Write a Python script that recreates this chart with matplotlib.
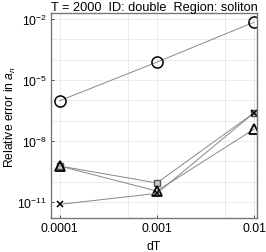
import matplotlib
matplotlib.use("Agg")
import matplotlib.pyplot as plt
from matplotlib.ticker import FixedLocator, NullFormatter

plt.rcParams['font.family'] = ['Liberation Sans', 'DejaVu Sans']
plt.rcParams['mathtext.fontset'] = 'custom'
plt.rcParams['mathtext.rm'] = 'Liberation Sans'
plt.rcParams['mathtext.it'] = 'Liberation Sans:italic'

# Data
dT = [0.0001, 0.001, 0.01]
err_circle = [9.5e-7, 7.5e-5, 7.0e-3]
err_square = [5.8e-10, 8.5e-11, 2.4e-7]
err_triangle = [5.8e-10, 3.4e-11, 3.8e-8]
err_cross = [7.5e-12, 2.6e-11, 2.4e-7]

x_ticks = [0.0001, 0.001, 0.01]
x_tick_labels = ["0.0001", "0.001", "0.01"]

fs = 8.7

fig = plt.figure(figsize=(2.66, 2.53), dpi=100)
ax = fig.add_axes([0.192, 0.134, 0.774, 0.811])

line_kw = dict(color="#888888", linewidth=0.7)
ax.plot(dT, err_circle, marker="o", markersize=8, markerfacecolor="none",
        markeredgecolor="black", markeredgewidth=1.1, **line_kw)
ax.plot(dT, err_square, marker="s", markersize=5, markerfacecolor="#cccccc",
        markeredgecolor="#555555", markeredgewidth=1.0, **line_kw)
ax.plot(dT, err_triangle, marker="^", markersize=7, markerfacecolor="none",
        markeredgecolor="black", markeredgewidth=1.3, **line_kw)
ax.plot(dT, err_cross, marker="x", markersize=4, markerfacecolor="none",
        markeredgecolor="black", markeredgewidth=1.1, **line_kw)

ax.set_xscale("log")
ax.set_yscale("log")
ax.set_xlim(10 ** -4.088, 10 ** -1.97)
ax.set_ylim(10 ** -11.8, 10 ** -1.7)

ax.set_xticks(x_ticks)
ax.set_xticklabels(x_tick_labels)
ax.xaxis.set_minor_locator(FixedLocator([0.0005, 0.005]))
ax.xaxis.set_minor_formatter(NullFormatter())
ax.yaxis.set_major_locator(FixedLocator([1e-11, 1e-8, 1e-5, 1e-2]))
ax.yaxis.set_minor_locator(FixedLocator([10.0 ** k for k in range(-11, -1)]))
ax.yaxis.set_minor_formatter(NullFormatter())

ax.grid(True, which="both", color="#e8e8e8", linewidth=0.6)
ax.set_axisbelow(True)
ax.tick_params(which="both", direction="in", length=2, width=0.6,
               labelsize=fs, colors="#333333", labelcolor="black", pad=3)
ax.tick_params(which="minor", length=0)
for spine in ax.spines.values():
    spine.set_color("#777777")
    spine.set_linewidth(1.0)

ax.set_title("T = 2000  ID: double  Region: soliton", fontsize=9.2, pad=1)
ax.set_xlabel("dT", fontsize=fs)
ax.set_ylabel("Relative error in $a_n$", fontsize=fs)
ax.xaxis.set_label_coords(0.5, -0.105)
ax.yaxis.set_label_coords(-0.16, 0.5)

fig.savefig("out.png", dpi=100)
